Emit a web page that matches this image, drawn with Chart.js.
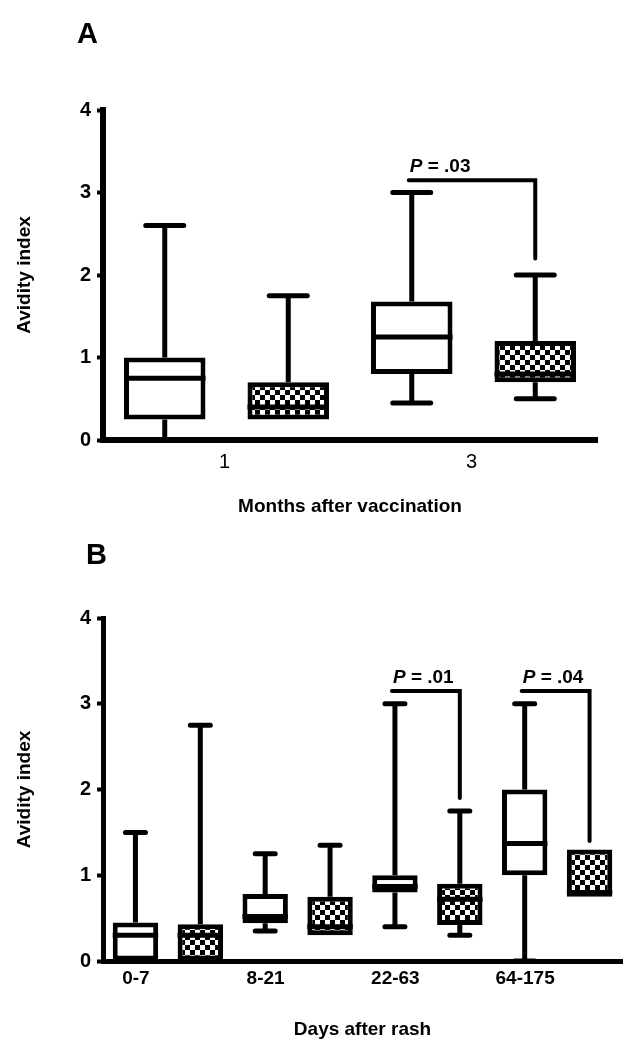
<!DOCTYPE html>
<html>
<head>
<meta charset="utf-8">
<title>Avidity index</title>
<script src="https://cdn.jsdelivr.net/npm/chart.js@4.4.1/dist/chart.umd.min.js"></script>
<style>
  body { margin: 0; background: #fff; }
  #wrap { position: relative; width: 628px; height: 1050px; }
  canvas { position: absolute; left: 0; }
  #chartA { top: 0; }
  #chartB { top: 525px; }
</style>
</head>
<body>
<div id="wrap">
  <canvas id="chartA" width="628" height="525"></canvas>
  <canvas id="chartB" width="628" height="525"></canvas>
</div>
<script>
// each box is [min, q1, median, q3, max]
// panel A - months after vaccination
const monthLabels = ['1', '3'];
const monthOpen = [[0, 0.25, 0.75, 1.0, 2.6], [0.45, 0.8, 1.25, 1.68, 3.0]];
const monthChecked = [[0.25, 0.25, 0.4, 0.7, 1.75], [0.5, 0.7, 0.8, 1.2, 2.0]];
const monthPValue = [null, '.03'];
const monthBracketTop = [null, 3.15];
const monthBracketEnd = [null, 2.2];

// panel B - days after rash
const dayLabels = ['0-7', '8-21', '22-63', '64-175'];
const dayOpen = [[0, 0, 0.3, 0.45, 1.5], [0.35, 0.44, 0.52, 0.78, 1.25], [0.4, 0.8, 0.87, 1.0, 3.0], [0, 1.0, 1.37, 2.0, 3.0]];
const dayChecked = [[0, 0, 0.3, 0.43, 2.75], [0.3, 0.3, 0.4, 0.75, 1.35], [0.3, 0.42, 0.72, 0.9, 1.75], [0.75, 0.75, 0.8, 1.3, 1.3]];
const dayPValue = [null, null, '.01', '.04'];
const dayBracketTop = [null, null, 3.15, 3.15];
const dayBracketEnd = [null, null, 1.9, 1.4];

const yTicks = [0, 1, 2, 3, 4];

const FONT = '"Liberation Sans", Arial, Helvetica, sans-serif';
Chart.defaults.font.family = FONT;
Chart.defaults.color = '#000';

// black / white checkerboard fill for the second group
function checkerPattern() {
    const c = document.createElement('canvas');
    c.width = 10;
    c.height = 10;
    const g = c.getContext('2d');
    g.fillStyle = '#000';
    g.fillRect(0, 0, 10, 10);
    g.fillStyle = '#fff';
    g.fillRect(0, 0, 5, 5);
    g.fillRect(5, 5, 5, 5);
    return g.createPattern(c, 'repeat');
}

// whiskers, caps and median lines on top of the floating bars
const boxWhiskers = {
    id: 'boxWhiskers',
    afterDatasetsDraw(chart, args, opts) {
        const ctx = chart.ctx;
        const y = chart.scales.y;
        ctx.save();
        ctx.strokeStyle = '#000';
        ctx.lineWidth = opts.lineWidth;
        chart.data.datasets.forEach((ds, i) => {
            const meta = chart.getDatasetMeta(i);
            meta.data.forEach((bar, j) => {
                const [min, q1, med, q3, max] = ds.stats[j];
                const x = bar.x;
                const half = bar.width / 2;
                ctx.lineCap = 'butt';
                ctx.beginPath();
                if (max > q3) {
                    ctx.moveTo(x, y.getPixelForValue(q3));
                    ctx.lineTo(x, y.getPixelForValue(max));
                }
                if (min < q1) {
                    ctx.moveTo(x, y.getPixelForValue(q1));
                    ctx.lineTo(x, y.getPixelForValue(min));
                }
                const ym = y.getPixelForValue(med);
                ctx.moveTo(x - half, ym);
                ctx.lineTo(x + half, ym);
                ctx.stroke();

                ctx.lineCap = 'round';
                ctx.beginPath();
                if (max > q3) {
                    ctx.moveTo(x - opts.cap, y.getPixelForValue(max));
                    ctx.lineTo(x + opts.cap, y.getPixelForValue(max));
                }
                if (min < q1) {
                    ctx.moveTo(x - opts.cap, y.getPixelForValue(min));
                    ctx.lineTo(x + opts.cap, y.getPixelForValue(min));
                }
                ctx.stroke();
            });
        });
        ctx.restore();
    }
};

// significance brackets with "P = ..." labels
const pBrackets = {
    id: 'pBrackets',
    afterDatasetsDraw(chart, args, opts) {
        const ctx = chart.ctx;
        const y = chart.scales.y;
        const open = chart.getDatasetMeta(0).data;
        const checked = chart.getDatasetMeta(1).data;
        ctx.save();
        ctx.strokeStyle = '#000';
        ctx.fillStyle = '#000';
        ctx.lineWidth = 4;
        ctx.lineCap = 'round';
        ctx.lineJoin = 'miter';
        opts.values.forEach((p, i) => {
            if (p === null) return;
            const x1 = open[i].x - 3;
            const x2 = checked[i].x;
            const yt = y.getPixelForValue(opts.tops[i]);
            ctx.beginPath();
            ctx.moveTo(x1, yt);
            ctx.lineTo(x2, yt);
            ctx.lineTo(x2, y.getPixelForValue(opts.ends[i]));
            ctx.stroke();

            ctx.textBaseline = 'alphabetic';
            ctx.textAlign = 'left';
            ctx.font = 'italic bold 19px ' + FONT;
            ctx.fillText('P', x1 + 1, yt - 8);
            const w = ctx.measureText('P').width;
            ctx.font = 'bold 19px ' + FONT;
            ctx.fillText(' = ' + p, x1 + 1 + w, yt - 8);
        });
        ctx.restore();
    }
};

const panelLetter = {
    id: 'panelLetter',
    afterDraw(chart, args, opts) {
        const ctx = chart.ctx;
        ctx.save();
        ctx.fillStyle = '#000';
        ctx.font = 'bold 29px ' + FONT;
        ctx.textBaseline = 'alphabetic';
        ctx.fillText(opts.text, opts.x, opts.y);
        ctx.restore();
    }
};

function boxChart(canvasId, s) {
    const pattern = checkerPattern();
    return new Chart(document.getElementById(canvasId), {
        type: 'bar',
        data: {
            labels: s.labels,
            datasets: [
                {
                    data: s.open.map(b => [b[1], b[3]]),
                    stats: s.open,
                    backgroundColor: '#fff',
                    borderColor: '#000',
                    borderWidth: 5,
                    borderSkipped: false,
                    categoryPercentage: 1.0,
                    barPercentage: s.barPct
                },
                {
                    data: s.checked.map(b => [b[1], b[3]]),
                    stats: s.checked,
                    backgroundColor: pattern,
                    borderColor: '#000',
                    borderWidth: 5,
                    borderSkipped: false,
                    categoryPercentage: 1.0,
                    barPercentage: s.barPct
                }
            ]
        },
        options: {
            responsive: false,
            animation: false,
            devicePixelRatio: 1,
            layout: { padding: { top: s.top, right: s.right, left: 0, bottom: 0 } },
            scales: {
                x: {
                    grid: { display: false, drawTicks: false },
                    border: { color: '#000', width: s.axisWidth },
                    ticks: {
                        font: s.xTickFont,
                        padding: s.xTickPad,
                        labelOffset: s.labelOffset,
                        maxRotation: 0
                    },
                    title: {
                        display: true,
                        text: s.xTitle,
                        font: { size: 19, weight: 'bold' },
                        padding: { top: 0, bottom: s.xTitlePad }
                    },
                    afterFit(scale) { scale.height = s.xHeight; }
                },
                y: {
                    min: 0,
                    max: 4,
                    afterBuildTicks(scale) { scale.ticks = yTicks.map(v => ({ value: v })); },
                    grid: { drawOnChartArea: false, drawTicks: true, tickLength: 6, tickWidth: 4, tickColor: '#000' },
                    border: { color: '#000', width: s.axisWidth },
                    ticks: { font: { size: 20, weight: 'bold' }, padding: 6 },
                    title: {
                        display: true,
                        text: 'Avidity index',
                        font: { size: 19, weight: 'bold' },
                        padding: { top: 13, bottom: 0 }
                    },
                    afterFit(scale) { scale.width = 103; }
                }
            },
            plugins: {
                legend: { display: false },
                tooltip: { enabled: false },
                boxWhiskers: { lineWidth: 5, cap: s.cap },
                pBrackets: { values: s.pValues, tops: s.bracketTop, ends: s.bracketEnd },
                panelLetter: { text: s.letter, x: s.letterX, y: s.letterY }
            }
        },
        plugins: [boxWhiskers, pBrackets, panelLetter]
    });
}

boxChart('chartA', {
    labels: monthLabels,
    open: monthOpen,
    checked: monthChecked,
    pValues: monthPValue,
    bracketTop: monthBracketTop,
    bracketEnd: monthBracketEnd,
    xTitle: 'Months after vaccination',
    xTickFont: { size: 20, weight: 'normal' },
    xTickPad: 10,
    labelOffset: -2,
    xTitlePad: 7,
    xHeight: 85,
    top: 110,
    right: 31,
    barPct: 0.66,
    cap: 19,
    axisWidth: 6,
    letter: 'A',
    letterX: 77,
    letterY: 43
});

boxChart('chartB', {
    labels: dayLabels,
    open: dayOpen,
    checked: dayChecked,
    pValues: dayPValue,
    bracketTop: dayBracketTop,
    bracketEnd: dayBracketEnd,
    xTitle: 'Days after rash',
    xTickFont: { size: 19, weight: 'bold' },
    xTickPad: 6,
    labelOffset: -32,
    xTitlePad: 9,
    xHeight: 89,
    top: 93,
    right: 6,
    barPct: 0.7,
    cap: 10,
    axisWidth: 5,
    letter: 'B',
    letterX: 86,
    letterY: 39
});
</script>
</body>
</html>
